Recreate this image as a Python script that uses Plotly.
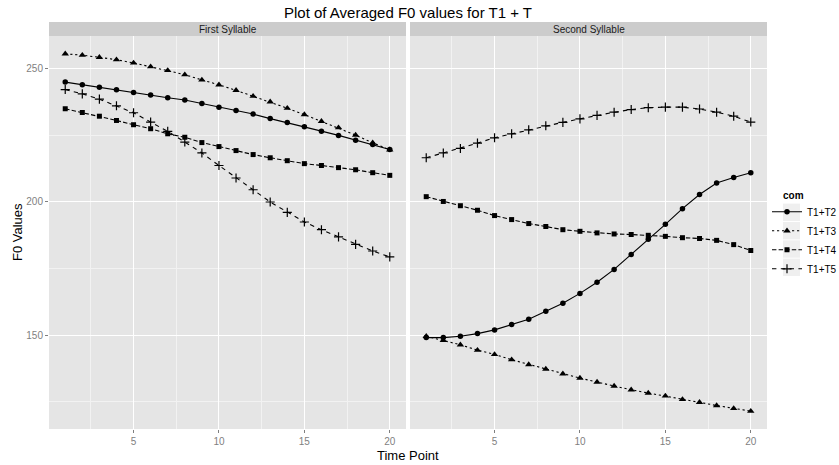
import plotly.graph_objects as go

time_points = list(range(1, 21))
series_names = ["T1+T2", "T1+T3", "T1+T4", "T1+T5"]

first_t1t2 = [245.0, 244.0, 243.1, 242.1, 241.1, 240.2, 239.1, 238.3, 237.0, 235.6, 234.3, 233.0, 231.3, 229.8, 228.2, 226.6, 225.0, 223.2, 221.6, 219.7]
first_t1t3 = [255.6, 255.1, 254.3, 253.4, 252.2, 250.8, 249.4, 247.8, 245.8, 244.0, 241.9, 239.7, 237.6, 235.2, 232.8, 230.3, 227.9, 225.1, 222.2, 219.6]
first_t1t4 = [235.0, 233.6, 232.2, 230.6, 229.0, 227.5, 225.6, 224.3, 222.3, 220.8, 219.3, 217.8, 216.6, 215.5, 214.4, 213.7, 212.9, 212.1, 211.0, 210.0]
first_t1t5 = [242.2, 240.6, 238.6, 236.1, 233.5, 230.0, 226.5, 222.5, 218.4, 213.7, 209.0, 204.6, 200.0, 196.1, 192.5, 189.6, 186.9, 184.1, 181.6, 179.4]

second_t1t2 = [149.1, 149.1, 149.6, 150.6, 152.0, 154.0, 156.0, 159.0, 162.0, 165.7, 169.9, 174.7, 180.3, 186.0, 191.6, 197.5, 202.8, 207.1, 209.2, 211.0]
second_t1t3 = [149.6, 148.1, 146.4, 144.4, 142.8, 140.8, 139.0, 137.3, 135.5, 133.9, 132.4, 130.9, 129.5, 128.3, 127.2, 125.9, 124.8, 123.6, 122.5, 121.5]
second_t1t4 = [202.0, 200.2, 198.6, 196.9, 194.9, 193.4, 191.9, 190.8, 189.6, 189.0, 188.4, 188.0, 187.8, 187.5, 187.1, 186.6, 186.3, 185.6, 184.0, 181.8]
second_t1t5 = [216.6, 218.4, 220.1, 222.1, 224.1, 225.6, 227.1, 228.6, 229.9, 231.2, 232.5, 233.7, 234.7, 235.4, 235.6, 235.6, 234.9, 233.7, 232.2, 230.0]

panel_labels = ["First Syllable", "Second Syllable"]
x_ticks = [5, 10, 15, 20]
y_ticks = [150, 200, 250]

panels = [
    [first_t1t2, first_t1t3, first_t1t4, first_t1t5],
    [second_t1t2, second_t1t3, second_t1t4, second_t1t5],
]

symbols = ["circle", "triangle-up", "square", "cross-thin"]
msizes = [5.5, 6.5, 5, 6.5]
dashes = ["solid", "2.2px,2.8px", "4.4px,2.2px", "4.4px,4.4px"]

FONT = "Liberation Sans, Arial, sans-serif"

W, H = 839, 465
ml, mt = 49, 36
mr = W - 767
mb = H - 429
pw = W - ml - mr
ph = H - mt - mb
gap = 4
d1 = (pw - gap) / 2 / pw


def px_x(xr):
    return (xr - ml) / pw


def px_y(yr):
    return (H - mb - yr) / ph


fig = go.Figure()

for p, series in enumerate(panels):
    xa = "x" if p == 0 else "x2"
    ya = "y" if p == 0 else "y2"
    for i, vals in enumerate(series):
        mk = dict(symbol=symbols[i], size=msizes[i], color="black")
        if symbols[i] == "cross-thin":
            mk["line"] = dict(color="black", width=1.2)
        fig.add_trace(go.Scatter(
            x=time_points, y=vals, mode="lines+markers",
            name=series_names[i], legendgroup=series_names[i],
            showlegend=(p == 0),
            line=dict(color="black", width=1.1, dash=dashes[i]),
            marker=mk, xaxis=xa, yaxis=ya,
        ))

all_vals = [v for s in panels for ser in s for v in ser]
ymin, ymax = min(all_vals), max(all_vals)
yr = ymax - ymin
yrange = [ymin - 0.05 * yr, ymax + 0.05 * yr]
xr = max(time_points) - min(time_points)
xrange = [min(time_points) - 0.05 * xr, max(time_points) + 0.05 * xr]

axis_common = dict(
    range=xrange, tickmode="array", tickvals=x_ticks,
    ticks="outside", ticklen=3, tickcolor="#7F7F7F", tickwidth=1,
    tickfont=dict(family=FONT, size=10, color="#7F7F7F"),
    showgrid=True, gridcolor="white", gridwidth=1,
    minor=dict(tickvals=[2.5, 7.5, 12.5, 17.5], showgrid=True, gridcolor="#F2F2F2", gridwidth=0.6, ticks=""),
    zeroline=False, showline=False, automargin=False,
)
yaxis_common = dict(
    range=yrange, tickmode="array", tickvals=y_ticks,
    showgrid=True, gridcolor="white", gridwidth=1,
    minor=dict(tickvals=[125, 175, 225], showgrid=True, gridcolor="#F2F2F2", gridwidth=0.6, ticks=""),
    zeroline=False, showline=False, automargin=False,
)

LEG_LEFT = 767
key_rows = [212.3, 230.7, 249.0, 267.3]

fig.update_layout(
    width=W, height=H,
    margin=dict(l=ml, r=mr, t=mt, b=mb, autoexpand=False),
    paper_bgcolor="white", plot_bgcolor="#E5E5E5",
    font=dict(family=FONT, color="black"),
    title=dict(text="Plot of Averaged F0 values for T1 + T", x=(ml + pw / 2) / W, xanchor="center",
               y=1 - 13 / H, yanchor="middle", yref="container",
               font=dict(family=FONT, size=15, color="black")),
    xaxis=dict(domain=[0, d1], anchor="y", **axis_common),
    xaxis2=dict(domain=[1 - d1, 1], anchor="y2", **axis_common),
    yaxis=dict(domain=[0, 1], anchor="x", ticks="outside", ticklen=3, tickcolor="#7F7F7F", tickwidth=1,
               tickfont=dict(family=FONT, size=10, color="#7F7F7F"), **yaxis_common),
    yaxis2=dict(domain=[0, 1], anchor="x2", matches="y", showticklabels=False, ticks="", **yaxis_common),
    legend=dict(
        font=dict(family=FONT, size=10, color="black"),
        x=px_x(LEG_LEFT), xanchor="left", y=px_y(key_rows[0] - 15), yanchor="top",
        bgcolor="rgba(0,0,0,0)", itemwidth=30, tracegroupgap=0,
    ),
    showlegend=True,
)

# legend title and key backgrounds
fig.add_annotation(xref="paper", yref="paper", x=px_x(781), y=px_y(195), text="<b>com</b>",
                   showarrow=False, xanchor="left", yanchor="middle",
                   font=dict(family=FONT, size=10, color="black"))
for yc in key_rows:
    fig.add_shape(type="rect", xref="paper", yref="paper",
                  x0=px_x(783), x1=px_x(800), y0=px_y(yc + 8.7), y1=px_y(yc - 8.7),
                  fillcolor="#EFEFEF", line=dict(width=0), layer="below")

strip_h = 14 / ph
for p, lab in enumerate(panel_labels):
    xref = "x domain" if p == 0 else "x2 domain"
    fig.add_shape(type="rect", xref=xref, yref="paper", x0=0, x1=1, y0=1, y1=1 + strip_h,
                  fillcolor="#CCCCCC", line=dict(width=0), layer="below")
    fig.add_annotation(xref=xref, yref="paper", x=0.5, y=1 + strip_h / 2, text=lab, showarrow=False,
                       xanchor="center", yanchor="middle", font=dict(family=FONT, size=10, color="#1A1A1A"))

fig.add_annotation(xref="paper", yref="paper", x=0.5, y=px_y(455), text="Time Point",
                   showarrow=False, xanchor="center", yanchor="middle", font=dict(family=FONT, size=13, color="black"))
fig.add_annotation(xref="paper", yref="paper", x=px_x(17), y=px_y(232), text="F0 Values",
                   textangle=-90, showarrow=False, xanchor="center", yanchor="middle",
                   font=dict(family=FONT, size=13, color="black"))

fig.write_html("out.html", config={"displayModeBar": False},
               post_script="document.body.style.margin='0px';")
